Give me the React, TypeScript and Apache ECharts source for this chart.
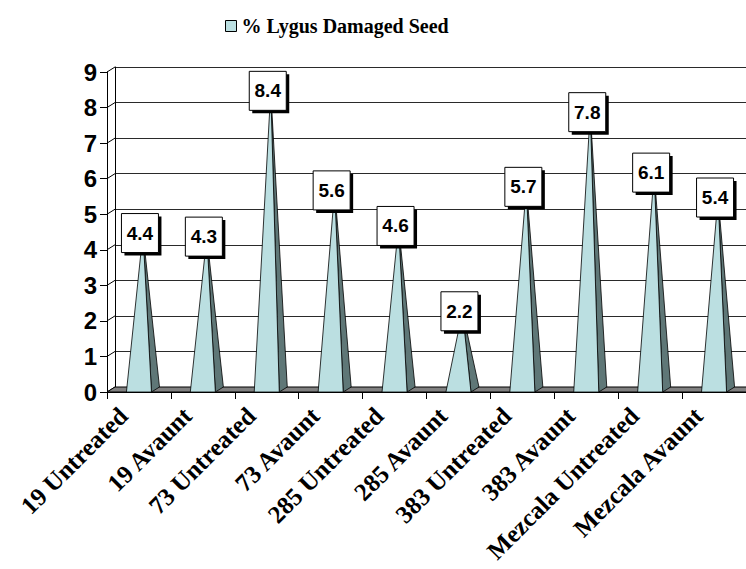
import { useEffect, useRef } from 'react';
import * as echarts from 'echarts';

const categories = [
  '19 Untreated', '19 Avaunt', '73 Untreated', '73 Avaunt', '285 Untreated',
  '285 Avaunt', '383 Untreated', '383 Avaunt', 'Mezcala Untreated', 'Mezcala Avaunt',
];
const damagedSeed = [4.4, 4.3, 8.4, 5.6, 4.6, 2.2, 5.7, 7.8, 6.1, 5.4];
const yTicks = [0, 1, 2, 3, 4, 5, 6, 7, 8, 9];
const seriesName = '% Lygus Damaged Seed';

const DX = 8;
const DY = 5;
const FACE = '#BBDFE1';
const SIDE = '#5F7777';
const FLOOR = '#808080';

export default function App() {
  const ref = useRef<HTMLDivElement>(null);
  useEffect(() => {
    const chart = echarts.init(ref.current!, null, { renderer: 'svg' });
    chart.setOption({
      animation: false,
      legend: {
        left: 220,
        top: 11,
        icon: 'rect',
        itemWidth: 11,
        itemHeight: 11,
        data: [{ name: seriesName, itemStyle: { color: FACE, borderColor: '#000', borderWidth: 1 } }],
        textStyle: {
          fontFamily: 'Liberation Serif, Times New Roman, serif',
          fontWeight: 'bold',
          fontSize: 20,
          color: '#000',
          padding: [0, 0, 0, 0],
        },
      },
      grid: [
        { left: 107, top: 72, width: 639, height: 320, outerBoundsMode: 'none', containLabel: false },
        { left: 115, top: 67, width: 639, height: 320, outerBoundsMode: 'none', containLabel: false },
      ],
      xAxis: [
        {
          type: 'category',
          gridIndex: 0,
          data: categories,
          boundaryGap: true,
          axisLine: { lineStyle: { color: '#000', width: 1 } },
          axisTick: { show: true, length: 7, lineStyle: { color: '#000' } },
          axisLabel: {
            interval: 0,
            rotate: 45,
            margin: 4,
            padding: [0, 22, 0, 0],
            fontFamily: 'Liberation Serif, Times New Roman, serif',
            fontWeight: 'bold',
            fontSize: 25,
            color: '#000',
          },
        },
        { type: 'category', gridIndex: 1, data: categories, show: false },
      ],
      yAxis: [
        {
          type: 'value',
          gridIndex: 0,
          min: 0,
          max: 9,
          interval: 1,
          axisLine: { show: true, lineStyle: { color: '#000', width: 1 } },
          axisTick: { show: true, length: 7, lineStyle: { color: '#000' } },
          splitLine: { show: false },
          axisLabel: {
            margin: 10,
            fontFamily: 'Liberation Sans, Arial, sans-serif',
            fontWeight: 'bold',
            fontSize: 24,
            color: '#000',
          },
        },
        {
          type: 'value',
          gridIndex: 1,
          min: 0,
          max: 9,
          interval: 1,
          axisLine: { show: true, lineStyle: { color: '#000', width: 1 } },
          axisTick: { show: false },
          axisLabel: { show: false },
          splitLine: { show: true, lineStyle: { color: '#2a2a2a', width: 1 } },
        },
      ],
      series: [
        {
          type: 'custom',
          name: 'diag',
          xAxisIndex: 0,
          yAxisIndex: 0,
          data: yTicks.map((v) => [0, v]),
          encode: { x: 0, y: 1 },
          silent: true,
          renderItem: (params: any, api: any) => {
            const cs = params.coordSys;
            const y = api.coord([0, api.value(1)])[1];
            return {
              type: 'line',
              shape: { x1: cs.x, y1: y, x2: cs.x + DX, y2: y - DY },
              style: { stroke: '#000', lineWidth: 1 },
            };
          },
        },
        {
          type: 'custom',
          name: 'floor',
          xAxisIndex: 0,
          yAxisIndex: 0,
          data: [[0, 0]],
          encode: { x: 0, y: 1 },
          silent: true,
          renderItem: (params: any) => {
            const cs = params.coordSys;
            const yb = cs.y + cs.height;
            return {
              type: 'polygon',
              shape: {
                points: [
                  [cs.x, yb],
                  [cs.x + cs.width, yb],
                  [cs.x + cs.width + DX, yb - DY],
                  [cs.x + DX, yb - DY],
                ],
              },
              style: { fill: FLOOR, stroke: '#000', lineWidth: 1 },
            };
          },
        },
        {
          type: 'custom',
          name: seriesName,
          xAxisIndex: 0,
          yAxisIndex: 0,
          itemStyle: { color: FACE },
          data: damagedSeed.map((v, i) => [i, v]),
          encode: { x: 0, y: 1 },
          renderItem: (params: any, api: any) => {
            const i = api.value(0);
            const v = api.value(1);
            const base = api.coord([i, 0]);
            const top = api.coord([i, v]);
            const bw = api.size([1, 0])[0];
            const hw = bw * 0.196;
            const cx = base[0];
            const y0 = base[1];
            const ax = cx + DX / 2;
            const ay = top[1] - DY / 2;
            const lx = cx + 1;
            const bwid = 37;
            const bh = 39;
            return {
              type: 'group',
              children: [
                {
                  type: 'polygon',
                  shape: { points: [[cx + hw, y0], [cx + hw + DX, y0 - DY], [ax, ay]] },
                  style: { fill: SIDE, stroke: '#000', lineWidth: 0.8 },
                },
                {
                  type: 'polygon',
                  shape: { points: [[cx - hw, y0], [cx + hw, y0], [ax, ay]] },
                  style: { fill: FACE, stroke: '#000', lineWidth: 0.8 },
                },
                {
                  type: 'rect',
                  shape: { x: lx - bwid / 2 + 3, y: ay - bh / 2 + 3, width: bwid, height: bh },
                  style: { fill: '#000' },
                },
                {
                  type: 'rect',
                  shape: { x: lx - bwid / 2, y: ay - bh / 2, width: bwid, height: bh },
                  style: { fill: '#fff', stroke: '#000', lineWidth: 1 },
                },
                {
                  type: 'text',
                  x: lx,
                  y: ay,
                  style: {
                    text: v.toFixed(1),
                    fill: '#000',
                    font: 'bold 19px "Liberation Sans", Arial, sans-serif',
                    align: 'center',
                    verticalAlign: 'middle',
                  },
                },
              ],
            };
          },
        },
      ],
    });
    return () => chart.dispose();
  }, []);
  return (
    <div
      ref={ref}
      style={{ position: 'fixed', left: 0, top: 0, width: 746, height: 569, background: '#fff' }}
    />
  );
}
